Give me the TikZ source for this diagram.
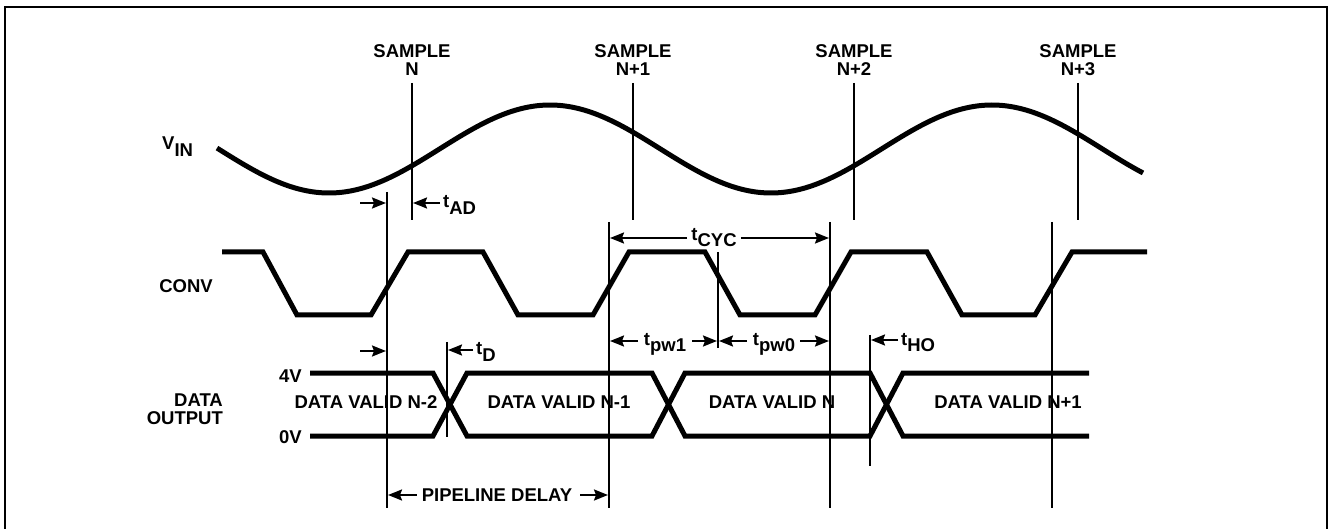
\documentclass[tikz,border=0pt]{standalone}
\usepackage{fontspec}
\setmainfont{Liberation Sans}
\usetikzlibrary{arrows.meta}
\newcommand\lowsub[1]{\raisebox{-0.33em}{#1}}
\begin{document}
\begin{tikzpicture}[x=1pt,y=-1pt,
  every node/.style={font=\fontsize{18.5}{18.5}\selectfont\bfseries, inner sep=0pt},
  thinline/.style={line width=2pt},
  wave/.style={line width=5pt, line join=miter},
  dim/.style={line width=2pt, -{Stealth[length=14pt,width=11pt,inset=2pt]}},
]
\useasboundingbox (0,0) rectangle (1331,529);
% frame
\coordinate (fbl) at (5,560);
\coordinate (ftl) at (5,7);
\coordinate (ftr) at (1327,7);
\coordinate (fbr) at (1327,560);
\draw[line width=2.5pt] (fbl) -- (ftl) -- (ftr) -- (fbr);

% sample labels and lines
\foreach \x/\lab/\n in {412/N/a, 633/N+1/b, 854/N+2/c, 1078/N+3/d} {
  \node[anchor=south, align=center] (smp\n) at (\x,76) {SAMPLE\\\lab};
  \coordinate (sl\n) at (\x,220);
  \draw[thinline] ([yshift=-7pt]smp\n.south) -- (sl\n);
}

% V_IN
\node[anchor=base west] (vin) at (162,150) {V\lowsub{IN}};
\draw[wave] plot[domain=217:1143, samples=160, smooth] (\x, {149+44*cos((\x-329)*0.81448)});

% CONV
\node[anchor=base] (conv) at (186,293) {CONV};
\draw[wave] (222,252) -- (263,252) -- (297,315) -- (371,315) -- (408,252)
  -- (483,252) -- (518,315) -- (593,315) -- (629,252)
  -- (705,252) -- (740,315) -- (815,315) -- (851,252)
  -- (927,252) -- (962,315) -- (1035,315) -- (1072,252) -- (1147,252);

% DATA OUTPUT
\node[anchor=south east, align=right] (dout) at (223,425) {DATA\\OUTPUT};
\node[anchor=base east] (v4) at (302,382) {4V};
\node[anchor=base east] (v0) at (302,443) {0V};
\draw[wave] (310,373) -- (433,373) -- (467,436) -- (652,436) -- (685,373) -- (870,373) -- (903,436) -- (1089,436);
\draw[wave] (310,436) -- (433,436) -- (467,373) -- (652,373) -- (685,436) -- (870,436) -- (903,373) -- (1089,373);
\node[anchor=base] (dv2) at (366,408) {DATA VALID N-2};
\node[anchor=base] (dv1) at (559,408) {DATA VALID N-1};
\node[anchor=base] (dv0) at (772,408) {DATA VALID N};
\node[anchor=base] (dvp) at (1008,408) {DATA VALID N+1};

% long vertical reference lines
\coordinate (l1t) at (387,192); \coordinate (l1b) at (387,508);
\coordinate (l2t) at (609,222); \coordinate (l2b) at (609,508);
\coordinate (l3t) at (830,222); \coordinate (l3b) at (830,508);
\coordinate (l4t) at (1052,222); \coordinate (l4b) at (1052,508);
\coordinate (dvt) at (718,252); \coordinate (dvb) at (718,348);
\coordinate (tdt) at (447,342); \coordinate (tdb) at (447,437);
\coordinate (hot) at (870,335); \coordinate (hob) at (870,466);
\draw[thinline] (l1t) -- (l1b);
\draw[thinline] (l2t) -- (l2b);
\draw[thinline] (l3t) -- (l3b);
\draw[thinline] (l4t) -- (l4b);
\draw[thinline] (dvt) -- (dvb);
\draw[thinline] (tdt) -- (tdb);
\draw[thinline] (hot) -- (hob);

% t_AD
\coordinate (ad1s) at (360,203); \coordinate (ad1e) at (386,203);
\coordinate (ad2s) at (440,203); \coordinate (ad2e) at (413,203);
\draw[dim] (ad1s) -- (ad1e);
\draw[dim] (ad2s) -- (ad2e);
\node[anchor=base west] (tad) at (443,208) {t\lowsub{AD}};

% t_D
\coordinate (d1s) at (360,351); \coordinate (d1e) at (386,351);
\coordinate (d2s) at (473,350); \coordinate (d2e) at (448,350);
\draw[dim] (d1s) -- (d1e);
\draw[dim] (d2s) -- (d2e);
\node[anchor=base west] (td) at (476,355) {t\lowsub{D}};

% t_CYC
\node (tcyc) at (714,238) {t\lowsub{CYC}};
\coordinate (cycl) at (610,238); \coordinate (cycr) at (829,238);
\draw[dim] ([xshift=-4pt]tcyc.west) -- (cycl);
\draw[dim] ([xshift=4pt]tcyc.east) -- (cycr);

% t_pw1 / t_pw0
\node[anchor=base] (tpw1) at (665,345) {t\lowsub{pw1}};
\node[anchor=base] (tpw0) at (774,345) {t\lowsub{pw0}};
\coordinate (pw1l) at (610,341); \coordinate (pw1r) at (717,341);
\coordinate (pw0l) at (719,341); \coordinate (pw0r) at (829,341);
\draw[dim] (638,341) -- (pw1l);
\draw[dim] (692,341) -- (pw1r);
\draw[dim] (747,341) -- (pw0l);
\draw[dim] (800,341) -- (pw0r);

% t_HO
\coordinate (ho1s) at (898,340); \coordinate (ho1e) at (871,340);
\draw[dim] (ho1s) -- (ho1e);
\node[anchor=base west] (tho) at (901,345) {t\lowsub{HO}};

% pipeline delay
\node (pipe) at (497,495) {PIPELINE DELAY};
\coordinate (pipl) at (388,495); \coordinate (pipr) at (608,495);
\draw[dim] ([xshift=-5pt]pipe.west) -- (pipl);
\draw[dim] ([xshift=8pt]pipe.east) -- (pipr);
\end{tikzpicture}
\end{document}
